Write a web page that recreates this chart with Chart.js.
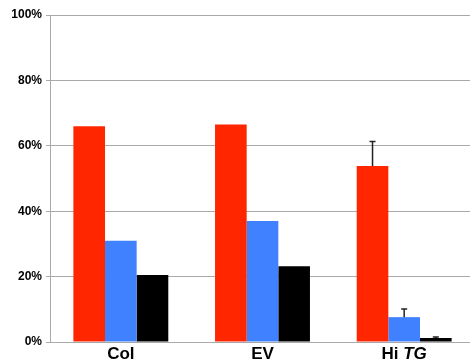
<!DOCTYPE html>
<html>
<head>
<meta charset="utf-8">
<script src="https://cdn.jsdelivr.net/npm/chart.js@4"></script>
<style>
  html, body { margin: 0; padding: 0; background: #fff; overflow: hidden; }
  #wrap { width: 470px; height: 362px; overflow: hidden; }
</style>
</head>
<body>
<div id="wrap"><canvas id="chart" width="475" height="362"></canvas></div>
<script>
const categories = ['Col', 'EV', 'Hi TG'];
const redValues = [66, 66.5, 53.8];
const blueValues = [31, 37, 7.6];
const blackValues = [20.5, 23.2, 1.2];
const redErrors = [null, null, 7.5];
const blueErrors = [null, null, 2.5];
const blackErrors = [null, null, 0.3];
const yTicks = [0, 20, 40, 60, 80, 100];

const FONT = '"Liberation Sans", Arial, sans-serif';

// upward-only error bars with a small cap
const errorBars = {
  id: 'errorBars',
  afterDatasetsDraw(chart) {
    const ctx = chart.ctx;
    const y = chart.scales.y;
    chart.data.datasets.forEach((ds, di) => {
      if (!ds.errors) return;
      const meta = chart.getDatasetMeta(di);
      ds.errors.forEach((err, i) => {
        if (err == null) return;
        const bar = meta.data[i];
        const top = y.getPixelForValue(ds.data[i] + err);
        ctx.save();
        ctx.strokeStyle = '#222';
        ctx.lineWidth = 1.5;
        ctx.beginPath();
        ctx.moveTo(bar.x, bar.y);
        ctx.lineTo(bar.x, top);
        ctx.moveTo(bar.x - 3, top);
        ctx.lineTo(bar.x + 3, top);
        ctx.stroke();
        ctx.restore();
      });
    });
  }
};

// category labels, "TG" in italics
const xLabels = {
  id: 'xLabels',
  afterDraw(chart) {
    const ctx = chart.ctx;
    const x = chart.scales.x;
    const yPos = chart.chartArea.bottom + 17;
    ctx.save();
    ctx.fillStyle = '#000';
    ctx.textBaseline = 'alphabetic';
    ctx.textAlign = 'left';
    categories.forEach((label, i) => {
      const cx = x.getPixelForValue(i);
      const parts = label === 'Hi TG'
        ? [['Hi ', 'bold 17px ' + FONT], ['TG', 'italic bold 17px ' + FONT]]
        : [[label, 'bold 17px ' + FONT]];
      let total = 0;
      parts.forEach(p => { ctx.font = p[1]; total += ctx.measureText(p[0]).width; });
      let px = cx - total / 2;
      parts.forEach(p => {
        ctx.font = p[1];
        ctx.fillText(p[0], px, yPos);
        px += ctx.measureText(p[0]).width;
      });
    });
    ctx.restore();
  }
};

new Chart(document.getElementById('chart').getContext('2d'), {
  type: 'bar',
  data: {
    labels: categories,
    datasets: [
      { data: redValues, errors: redErrors, backgroundColor: '#FF2600' },
      { data: blueValues, errors: blueErrors, backgroundColor: '#4081FF' },
      { data: blackValues, errors: blackErrors, backgroundColor: '#000000' }
    ]
  },
  options: {
    responsive: false,
    animation: false,
    devicePixelRatio: 1,
    categoryPercentage: 0.67,
    barPercentage: 1,
    layout: { padding: { top: 15, right: 0, left: 0, bottom: 0 } },
    plugins: { legend: { display: false }, tooltip: { enabled: false } },
    scales: {
      x: {
        grid: { display: false },
        border: { display: false },
        ticks: { display: false },
        afterFit(scale) { scale.height = 20; }
      },
      y: {
        min: 0,
        max: 100,
        afterBuildTicks(scale) { scale.ticks = yTicks.map(v => ({ value: v })); },
        ticks: {
          callback: v => v + '%',
          color: '#000',
          padding: 4,
          font: { family: FONT, size: 12, weight: 'bold' }
        },
        grid: { color: '#aaa', tickLength: 4, lineWidth: 1 },
        border: { color: '#aaa' },
        afterFit(scale) { scale.width = 50; }
      }
    }
  },
  plugins: [errorBars, xLabels]
});
</script>
</body>
</html>
